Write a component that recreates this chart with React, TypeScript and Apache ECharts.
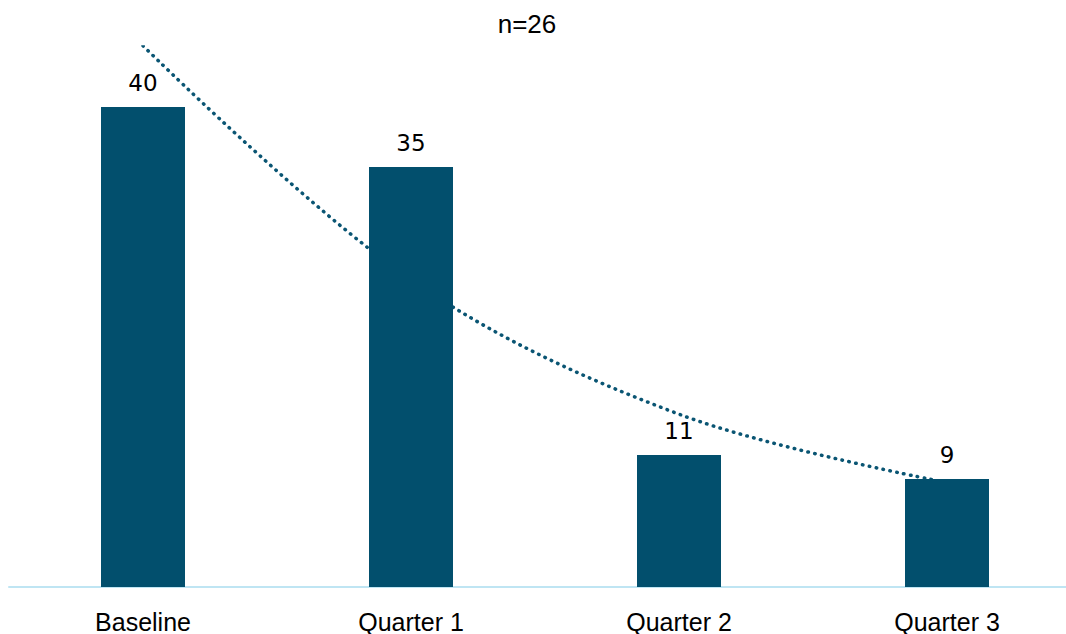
import React, { useEffect, useRef } from "react";
import * as echarts from "echarts";

const categories = ["Baseline", "Quarter 1", "Quarter 2", "Quarter 3"];
const values = [40, 35, 11, 9];
const trendValues = [45.1, 25.6, 14.4, 8.7];
const subtitle = "n=26";

export default function App() {
  const ref = useRef<HTMLDivElement>(null);
  useEffect(() => {
    if (!ref.current) return;
    const chart = echarts.init(ref.current, undefined, { renderer: "svg" });
    chart.setOption({
      animation: false,
      backgroundColor: "#ffffff",
      title: {
        text: subtitle,
        left: 522,
        top: 6,
        textAlign: "center",
        textStyle: {
          fontFamily: "Liberation Sans, sans-serif",
          fontSize: 26,
          fontWeight: "normal",
          color: "#000",
        },
      },
      grid: { left: 9, right: 0, top: 47, bottom: 47 },
      xAxis: {
        type: "category",
        data: categories,
        axisLine: { show: true, lineStyle: { color: "#bfe5f3", width: 2 } },
        axisTick: { show: false },
        axisLabel: {
          margin: 22,
          fontSize: 25,
          color: "#000",
          fontFamily: "Liberation Sans, sans-serif",
        },
      },
      yAxis: {
        type: "value",
        min: 0,
        max: 45,
        show: false,
        splitLine: { show: false },
      },
      series: [
        {
          type: "line",
          data: trendValues,
          smooth: 0.35,
          symbol: "none",
          lineStyle: { color: "#0a5573", width: 3.5, type: [0.5, 6.5], cap: "round" },
          z: 1,
        },
        {
          type: "bar",
          data: values,
          barWidth: 84,
          itemStyle: { color: "#024f6d" },
          label: {
            show: true,
            position: "top",
            distance: 13,
            fontSize: 23,
            color: "#000",
            fontFamily: "DejaVu Sans, sans-serif",
          },
          z: 3,
        },
      ],
    });
    return () => chart.dispose();
  }, []);
  return (
    <div
      style={{
        position: "absolute",
        left: 0,
        top: 0,
        width: 1066,
        height: 634,
        overflow: "hidden",
        background: "#fff",
      }}
    >
      <div ref={ref} style={{ width: 1081, height: 634 }} />
    </div>
  );
}
